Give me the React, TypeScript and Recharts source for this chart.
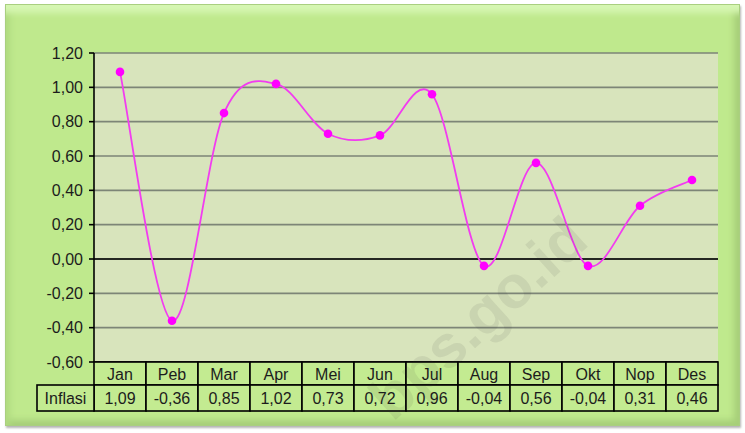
import React from "react";
import {
  CartesianGrid,
  Line,
  LineChart,
  ReferenceLine,
  XAxis,
  YAxis,
} from "recharts";

const MONTHS = ["Jan", "Peb", "Mar", "Apr", "Mei", "Jun", "Jul", "Aug", "Sep", "Okt", "Nop", "Des"];
const INFLASI = [1.09, -0.36, 0.85, 1.02, 0.73, 0.72, 0.96, -0.04, 0.56, -0.04, 0.31, 0.46];
const Y_TICKS = [-0.6, -0.4, -0.2, 0, 0.2, 0.4, 0.6, 0.8, 1.0, 1.2];
const ROW_LABEL = "Inflasi";

const data = MONTHS.map((month, i) => ({ month, inflasi: INFLASI[i] }));

const FONT = '"Liberation Sans", Arial, sans-serif';
const INK = "#1c1c1c";
const CELL_FILL = "#c3eb91";

const fmt = (v: number) => {
  const s = v.toFixed(2).replace(".", ",");
  return s === "-0,00" ? "0,00" : s;
};

// Excel-style smoothed line: Catmull-Rom segments as cubic beziers.
const excelSmooth = (context: any) => {
  let pts: [number, number][] = [];
  return {
    areaStart() {},
    areaEnd() {},
    lineStart() {
      pts = [];
    },
    point(x: number, y: number) {
      pts.push([+x, +y]);
    },
    lineEnd() {
      if (!pts.length) return;
      context.moveTo(pts[0][0], pts[0][1]);
      for (let i = 0; i < pts.length - 1; i++) {
        const p0 = pts[i - 1] || pts[i];
        const p1 = pts[i];
        const p2 = pts[i + 1];
        const p3 = pts[i + 2] || pts[i + 1];
        context.bezierCurveTo(
          p1[0] + (p2[0] - p0[0]) / 6,
          p1[1] + (p2[1] - p0[1]) / 6,
          p2[0] - (p3[0] - p1[0]) / 6,
          p2[1] - (p3[1] - p1[1]) / 6,
          p2[0],
          p2[1]
        );
      }
    },
  };
};

const HEAD_H = 23;
const ROW_H = 26;
const LABEL_W = 57;

const TableTick = (props: any) => {
  const { x, y, payload, index } = props;
  const w = payload && payload.offset ? payload.offset * 2 : 52;
  const i = payload && payload.index != null ? payload.index : index;
  const left = x - w / 2;
  const textProps = {
    fontFamily: FONT,
    fontSize: 16,
    fill: INK,
    textAnchor: "middle" as const,
  };
  return (
    <g>
      <rect x={left} y={y} width={w} height={HEAD_H} fill={CELL_FILL} stroke="#000" strokeWidth={1.6} />
      <rect x={left} y={y + HEAD_H} width={w} height={ROW_H} fill={CELL_FILL} stroke="#000" strokeWidth={1.6} />
      <text x={x} y={y + HEAD_H / 2 + 6} {...textProps}>
        {payload.value}
      </text>
      <text x={x} y={y + HEAD_H + ROW_H / 2 + 6} {...textProps}>
        {fmt(INFLASI[i])}
      </text>
      {i === 0 && (
        <g>
          <rect
            x={left - LABEL_W}
            y={y + HEAD_H}
            width={LABEL_W}
            height={ROW_H}
            fill={CELL_FILL}
            stroke="#000"
            strokeWidth={1.6}
          />
          <text x={left - LABEL_W / 2} y={y + HEAD_H + ROW_H / 2 + 6} {...textProps}>
            {ROW_LABEL}
          </text>
        </g>
      )}
    </g>
  );
};

export default function App() {
  return (
    <div style={{ position: "absolute", left: 0, top: 0, width: 745, height: 433, background: "#fff" }}>
      <div
        style={{
          position: "absolute",
          left: 5,
          top: 4,
          width: 733,
          height: 420,
          background: "#bfe98d",
          border: "1px solid #a9cf80",
          boxShadow:
            "inset 0 14px 6px -6px #d6f6b2, inset 10px 0 6px -6px #b0da80, inset -10px 0 6px -5px #a6cf79, inset 0 -10px 6px -5px #a6cf79, 1px 2px 2px #b5b5b5",
        }}
      />
      <div style={{ position: "absolute", left: 0, top: 0 }}>
        <LineChart
          width={745}
          height={433}
          data={data}
          margin={{ top: 53, right: 27, bottom: 21, left: 0 }}
        >
          <CartesianGrid
            vertical={false}
            stroke="#7d8577"
            strokeWidth={1.6}
            fill="#d8e4bc"
            fillOpacity={1}
          />
          <XAxis
            dataKey="month"
            scale="band"
            interval={0}
            height={50}
            tickSize={0}
            tickMargin={0}
            tickLine={false}
            axisLine={{ stroke: "#000", strokeWidth: 1.6 }}
            tick={<TableTick />}
          />
          <YAxis
            width={94}
            domain={[-0.6, 1.2]}
            ticks={Y_TICKS}
            interval={0}
            tickFormatter={(v) => fmt(Number(v))}
            tickSize={5}
            tickMargin={6}
            tickLine={{ stroke: "#000", strokeWidth: 1.6 }}
            axisLine={{ stroke: "#000", strokeWidth: 1.6 }}
            tick={{ fontFamily: FONT, fontSize: 16, fill: INK }}
          />
          <ReferenceLine y={0} stroke="#000" strokeWidth={1.7} />
          <Line
            type={excelSmooth as any}
            dataKey="inflasi"
            stroke="#f23cf0"
            strokeWidth={1.8}
            dot={{ r: 4.3, fill: "#ff00ff", stroke: "#ff00ff", strokeWidth: 0 }}
            activeDot={false}
            isAnimationActive={false}
          />
        </LineChart>
      </div>
      <div
        style={{
          position: "absolute",
          left: 478,
          top: 318,
          transform: "translate(-50%, -50%) rotate(-42deg)",
          fontFamily: FONT,
          fontWeight: 700,
          fontSize: 60,
          color: "rgba(60, 60, 60, 0.09)",
          whiteSpace: "nowrap",
          pointerEvents: "none",
        }}
      >
        bps.go.id
      </div>
    </div>
  );
}
